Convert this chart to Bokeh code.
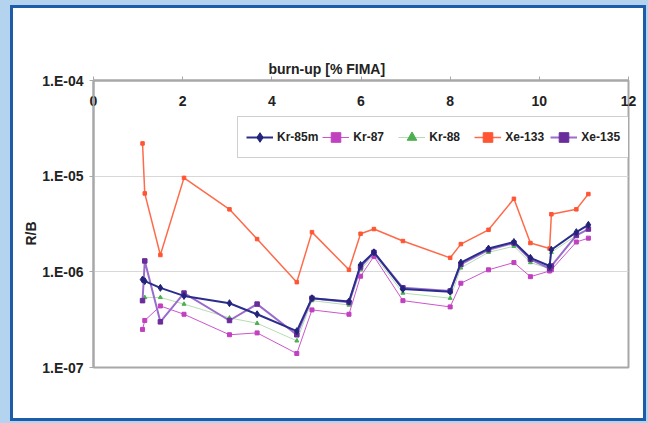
from bokeh.plotting import figure
from bokeh.models import (Range1d, FixedTicker, CustomJSTickFormatter, Legend,
                          LegendItem, ColumnDataSource, Title)
from bokeh.embed import file_html
from bokeh.resources import INLINE

# ---------------- data ----------------
burnup = [1.10, 1.15, 1.50, 2.03, 3.05, 3.67, 4.56, 4.90, 5.73, 5.99, 6.29,
          6.94, 8.00, 8.24, 8.86, 9.43, 9.80, 10.23, 10.27, 10.83, 11.10]

kr85m = [8.3e-7, 8.0e-7, 6.8e-7, 5.6e-7, 4.7e-7, 3.6e-7, 2.4e-7, 5.3e-7, 4.9e-7,
         1.18e-6, 1.6e-6, 6.6e-7, 6.2e-7, 1.25e-6, 1.75e-6, 2.05e-6, 1.4e-6,
         1.15e-6, 1.7e-6, 2.6e-6, 3.1e-6]
kr87 = [2.5e-7, 3.1e-7, 4.4e-7, 3.6e-7, 2.2e-7, 2.3e-7, 1.4e-7, 4.0e-7, 3.6e-7,
        9.0e-7, 1.45e-6, 5.0e-7, 4.3e-7, 7.6e-7, 1.05e-6, 1.25e-6, 8.9e-7,
        1.02e-6, 1.05e-6, 2.05e-6, 2.25e-6]
kr88 = [5.0e-7, 5.4e-7, 5.4e-7, 4.6e-7, 3.3e-7, 2.9e-7, 1.9e-7, 5.0e-7, 4.5e-7,
        1.05e-6, 1.5e-6, 6.0e-7, 5.3e-7, 1.1e-6, 1.6e-6, 1.85e-6, 1.25e-6,
        1.08e-6, 1.6e-6, 2.4e-6, 2.8e-6]
xe133 = [2.2e-5, 6.6e-6, 1.5e-6, 9.6e-6, 4.5e-6, 2.2e-6, 7.8e-7, 2.6e-6, 1.05e-6,
         2.5e-6, 2.8e-6, 2.1e-6, 1.4e-6, 1.95e-6, 2.75e-6, 5.8e-6, 2.0e-6,
         1.75e-6, 4.0e-6, 4.5e-6, 6.5e-6]
xe135 = [5.0e-7, 1.3e-6, 3.0e-7, 6.0e-7, 3.1e-7, 4.6e-7, 2.2e-7, 5.3e-7, 4.8e-7,
         1.12e-6, 1.6e-6, 6.8e-7, 6.3e-7, 1.2e-6, 1.7e-6, 2.0e-6, 1.35e-6,
         1.08e-6, 1.15e-6, 2.4e-6, 2.8e-6]

series_names = ["Kr-85m", "Kr-87", "Kr-88", "Xe-133", "Xe-135"]
x_ticks = [0, 2, 4, 6, 8, 10, 12]
y_ticks = [1e-7, 1e-6, 1e-5, 1e-4]
y_tick_labels = ["1.E-07", "1.E-06", "1.E-05", "1.E-04"]
x_title = "burn-up [% FIMA]"
y_title = "R/B"

FONT = "Liberation Sans"
TXT = "#222222"
GRAY = "#A8A8A8"

p = figure(width=656, height=431, y_axis_type="log",
           x_range=Range1d(0, 12), y_range=Range1d(1e-7, 1e-4),
           x_axis_location="above",
           output_backend="svg", toolbar_location=None,
           min_border_left=101, min_border_right=20,
           min_border_top=88, min_border_bottom=56)
p.margin = (-8, -8, -8, -8)
# page background: light blue, dark blue frame, white panel (CSS layers)
p.styles = {
    "background": ("linear-gradient(#FFFFFF,#FFFFFF) 21px 16px / 630px 410px no-repeat, "
                   "linear-gradient(#1C5CA8,#1C5CA8) 18px 13px / 636px 416px no-repeat, "
                   "#B3D3EE"),
}
p.border_fill_alpha = 0.0
p.background_fill_color = "white"
p.outline_line_color = GRAY
p.outline_line_width = 2

# axis titles as plot titles (allow an offset like the reference)
p.title = Title(text=x_title, align="left", offset=175, standoff=7,
                text_font=FONT, text_font_size="14px", text_font_style="bold",
                text_color=TXT)
p.add_layout(Title(text=y_title, align="left", offset=122, standoff=1,
                   text_font=FONT, text_font_size="14px", text_font_style="bold",
                   text_color=TXT), "left")

# axes
xa = p.xaxis[0]
xa.ticker = FixedTicker(ticks=x_ticks, minor_ticks=[])
xa.axis_line_color = GRAY
xa.axis_line_width = 2
xa.major_tick_line_color = GRAY
xa.major_tick_out = 4
xa.major_tick_in = 0
xa.minor_tick_line_color = None
xa.major_label_standoff = -29
xa.major_label_text_font = FONT
xa.major_label_text_font_size = "14px"
xa.major_label_text_font_style = "bold"
xa.major_label_text_color = TXT

ya = p.yaxis[0]
ya.ticker = FixedTicker(ticks=y_ticks, minor_ticks=[])
ya.formatter = CustomJSTickFormatter(args=dict(tv=y_ticks, lbls=y_tick_labels), code="""
let best = 0, d = 1e9;
for (let i = 0; i < tv.length; i++) {
  const dd = Math.abs(Math.log10(tick) - Math.log10(tv[i]));
  if (dd < d) { d = dd; best = i; }
}
return lbls[best];
""")
ya.axis_line_color = GRAY
ya.axis_line_width = 2
ya.major_tick_line_color = GRAY
ya.major_tick_out = 4
ya.major_tick_in = 0
ya.minor_tick_line_color = None
ya.major_label_standoff = 6
ya.major_label_text_font = FONT
ya.major_label_text_font_size = "14px"
ya.major_label_text_font_style = "bold"
ya.major_label_text_color = TXT

p.xgrid.grid_line_color = None
p.ygrid.grid_line_color = "#D8D8D8"
p.ygrid.grid_line_width = 1

# series
styles = [
    dict(values=kr85m, line_color="#2B2D8C", line_width=2, marker="diamond", size=7, mcolor="#23237A"),
    dict(values=kr87, line_color="#CC55CC", line_width=1, marker="square", size=4, mcolor="#C040C0"),
    dict(values=kr88, line_color="#B4DDB4", line_width=1, marker="triangle", size=4, mcolor="#4CAF50"),
    dict(values=xe133, line_color="#FF6A4A", line_width=1.5, marker="square", size=3.5, mcolor="#FF5533"),
    dict(values=xe135, line_color="#9A6CCB", line_width=2, marker="square", size=4.5, mcolor="#6A2C9A"),
]
order = [3, 2, 1, 4, 0]  # draw order: Xe-133 at back
renderers = {}
for i in order:
    st = styles[i]
    src = ColumnDataSource(dict(x=burnup, y=st["values"]))
    l = p.line("x", "y", source=src, line_color=st["line_color"], line_width=st["line_width"])
    m = p.scatter("x", "y", source=src, marker=st["marker"], size=st["size"],
                  fill_color=st["mcolor"], line_color=st["mcolor"])
    renderers[i] = [l, m]

items = [LegendItem(label=series_names[i], renderers=renderers[i]) for i in range(5)]
legend = Legend(items=items, orientation="horizontal", location=(144, 209),
                glyph_width=27, glyph_height=24, label_standoff=4, spacing=4,
                padding=8, margin=0, label_width=41,
                border_line_color="#A0A0A0", border_line_width=1,
                background_fill_color="white", background_fill_alpha=1.0,
                label_text_font=FONT, label_text_font_size="12px",
                label_text_font_style="bold", label_text_color=TXT)
p.add_layout(legend, "center")

open("out.html", "w").write(file_html(p, INLINE))
